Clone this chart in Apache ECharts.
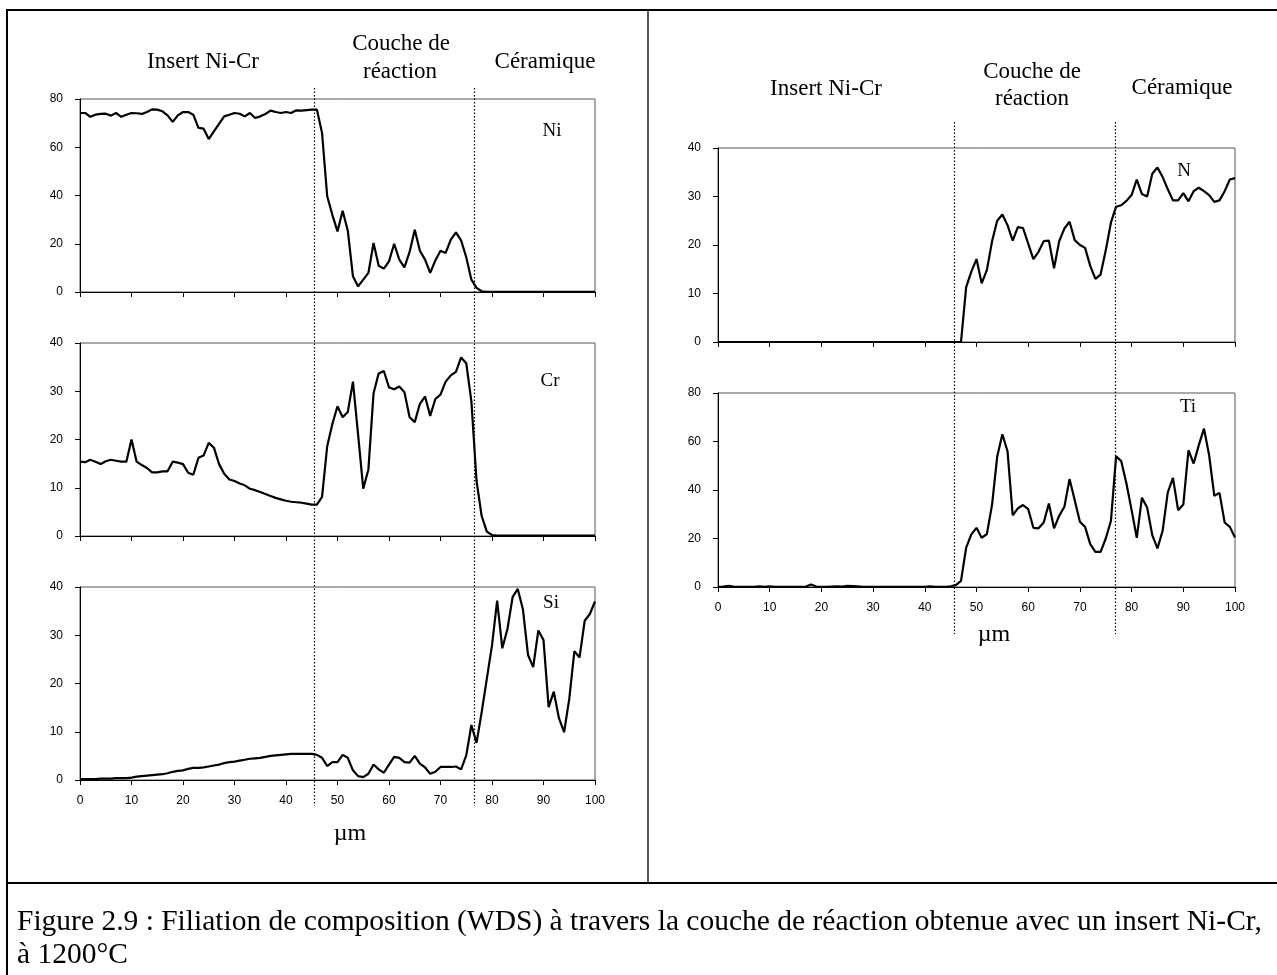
<!DOCTYPE html>
<html>
<head>
<meta charset="utf-8">
<script src="https://cdn.jsdelivr.net/npm/echarts@6/dist/echarts.min.js"></script>
<style>
html,body{margin:0;padding:0;background:#fff;}
#c{width:1277px;height:975px;}
</style>
</head>
<body>
<div id="c"></div>
<script>
// ---- data (µm positions and at.% values) ----
const POSITIONS = [0,1,2,3,4,5,6,7,8,9,10,11,12,13,14,15,16,17,18,19,20,21,22,23,24,25,26,27,28,29,30,31,32,33,34,35,36,37,38,39,40,41,42,43,44,45,46,47,48,49,50,51,52,53,54,55,56,57,58,59,60,61,62,63,64,65,66,67,68,69,70,71,72,73,74,75,76,77,78,79,80,81,82,83,84,85,86,87,88,89,90,91,92,93,94,95,96,97,98,99,100];

const NI = [74.2,74.2,72.6,73.5,73.8,73.9,73.1,74.2,72.6,73.5,74.2,74.1,73.8,74.6,75.7,75.6,74.9,73.2,70.5,73.2,74.6,74.6,73.5,68.0,67.7,63.4,66.6,69.7,72.8,73.5,74.2,73.9,72.8,74.2,72.1,72.8,73.8,75.2,74.6,74.2,74.6,74.2,75.3,75.2,75.4,75.6,75.6,65.9,39.7,32.0,25.1,33.7,25.4,6.5,2.3,5.1,7.9,20.3,10.9,9.7,12.7,20.0,13.4,10.2,16.6,25.8,17.1,13.4,7.9,13.1,17.1,16.2,21.7,24.7,21.4,14.4,5.1,1.7,0.3,0.1,0.1,0.1,0.1,0.1,0.1,0.1,0.1,0.1,0.1,0.1,0.1,0.1,0.1,0.1,0.1,0.1,0.1,0.1,0.1,0.1,0.1];

const CR = [15.4,15.3,15.8,15.4,14.9,15.5,15.8,15.6,15.4,15.4,20.0,15.4,14.7,14.1,13.2,13.2,13.4,13.4,15.4,15.2,14.9,13.1,12.7,16.2,16.7,19.3,18.3,14.9,12.9,11.7,11.4,10.9,10.5,9.8,9.5,9.1,8.7,8.3,7.9,7.6,7.3,7.1,7.0,6.9,6.7,6.5,6.5,8.1,18.6,23.2,26.9,24.6,25.7,32.0,21.0,9.8,13.8,29.6,33.7,34.2,30.8,30.4,31.0,29.8,24.6,23.6,27.4,28.9,24.9,28.4,29.3,32.0,33.3,34.0,37.0,35.8,27.9,11.4,4.1,0.9,0.2,0.1,0.1,0.1,0.1,0.1,0.1,0.1,0.1,0.1,0.1,0.1,0.1,0.1,0.1,0.1,0.1,0.1,0.1,0.1,0.1];

const SI = [0.2,0.2,0.2,0.2,0.3,0.3,0.3,0.4,0.4,0.4,0.5,0.7,0.8,0.9,1.0,1.1,1.2,1.4,1.7,1.9,2.0,2.3,2.5,2.5,2.6,2.8,3.0,3.2,3.5,3.7,3.8,4.0,4.2,4.4,4.5,4.6,4.8,5.0,5.1,5.2,5.3,5.4,5.4,5.4,5.4,5.4,5.2,4.6,2.9,3.7,3.7,5.2,4.6,2.0,0.8,0.6,1.3,3.2,2.2,1.5,3.2,4.8,4.6,3.7,3.6,5.0,3.4,2.6,1.3,1.7,2.7,2.7,2.7,2.8,2.2,5.1,11.4,7.7,14.1,21.0,27.9,37.2,27.3,31.3,37.9,39.6,35.4,25.9,23.4,31.0,29.0,15.1,18.3,12.8,9.9,16.8,26.7,25.4,33.0,34.4,37.0];

const N = [0,0,0,0,0,0,0,0,0,0,0,0,0,0,0,0,0,0,0,0,0,0,0,0,0,0,0,0,0,0,0,0,0,0,0,0,0,0,0,0,0,0,0,0,0,0,0,0,11.3,14.5,17.1,12.1,14.8,20.7,25.0,26.3,24.1,20.9,23.7,23.5,20.3,17.1,18.6,20.8,20.9,15.2,20.8,23.4,24.8,21.0,20.0,19.4,15.7,13.0,13.9,18.9,24.6,27.9,28.2,29.1,30.3,33.5,30.5,30.0,34.7,36.0,34.0,31.5,29.2,29.2,30.7,29.0,31.1,31.8,31.1,30.3,28.9,29.2,31.1,33.5,33.8];

const TI = [0.1,0.2,0.5,0.2,0.1,0.1,0.1,0.1,0.3,0.1,0.3,0.1,0.1,0.1,0.1,0.1,0.1,0.2,1.0,0.2,0.1,0.1,0.2,0.3,0.2,0.5,0.4,0.3,0.1,0.1,0.1,0.1,0.1,0.1,0.1,0.1,0.1,0.1,0.1,0.1,0.1,0.3,0.1,0.1,0.1,0.3,0.8,2.5,16.2,21.7,24.4,20.3,21.8,33.8,53.7,63.0,56.0,29.6,32.4,33.8,32.1,24.4,24.2,26.6,34.4,24.2,29.4,33.1,44.5,35.8,26.9,24.8,17.7,14.5,14.5,20.0,27.2,53.9,51.9,42.7,31.7,20.3,36.8,32.8,21.4,15.9,23.2,39.0,45.0,31.7,34.0,56.4,50.9,58.5,65.3,54.3,37.6,38.8,26.6,24.8,20.4];

const Y_MAX = [80, 40, 40, 40, 80];
const Y_STEP = [20, 10, 10, 10, 20];
const ELEMENTS = ['Ni', 'Cr', 'Si', 'N', 'Ti'];
const BOUNDARIES_LEFT = [45.5, 76.5];
const BOUNDARIES_RIGHT = [45.7, 76.7];
const ZONES = ['Insert Ni-Cr', 'Couche de', 'réaction', 'Céramique'];
const X_UNIT = 'µm';
const CAPTION_1 = 'Figure 2.9 : Filiation de composition (WDS) à travers la couche de réaction obtenue avec un insert Ni-Cr,';
const CAPTION_2 = 'à 1200°C';

// ---- layout ----
const SERIES = [NI, CR, SI, N, TI];
const GRIDS = [
  {left: 80, top: 99, width: 515, height: 193},
  {left: 80, top: 343, width: 515, height: 193},
  {left: 80, top: 587, width: 515, height: 193},
  {left: 718, top: 148, width: 517, height: 194},
  {left: 718, top: 393, width: 517, height: 194}
];
const SHOW_X_LABELS = [false, false, true, false, true];
const SANS = '"Liberation Sans", Arial, sans-serif';
const SERIF = '"Liberation Serif", "Times New Roman", serif';

const chart = echarts.init(document.getElementById('c'), null, {renderer: 'canvas'});

const grid = GRIDS.map(g => Object.assign({show: true, borderColor: '#555', borderWidth: 1, backgroundColor: 'transparent'}, g));
const xAxis = GRIDS.map((g, i) => ({
  type: 'value', gridIndex: i, min: 0, max: 100, interval: 10,
  axisLine: {show: true, onZero: false, lineStyle: {color: '#000', width: 1}},
  axisTick: {show: true, inside: false, length: 5, lineStyle: {color: '#000'}},
  axisLabel: {show: SHOW_X_LABELS[i], margin: 15, color: '#000', fontFamily: SANS, fontSize: 12},
  splitLine: {show: false}
}));
const yAxis = GRIDS.map((g, i) => ({
  type: 'value', gridIndex: i, min: 0, max: Y_MAX[i], interval: Y_STEP[i],
  axisLine: {show: true, lineStyle: {color: '#000', width: 1}},
  axisTick: {show: true, inside: false, length: 5, lineStyle: {color: '#000'}},
  axisLabel: {show: true, margin: 17, color: '#000', fontFamily: SANS, fontSize: 12},
  splitLine: {show: false}
}));
const series = SERIES.map((vals, i) => ({
  type: 'line', name: ELEMENTS[i], xAxisIndex: i, yAxisIndex: i,
  data: POSITIONS.map((x, k) => [x, vals[k]]),
  showSymbol: false, symbol: 'none', smooth: false, silent: true,
  lineStyle: {color: '#000', width: 2.2}, z: 3
}));

chart.setOption({
  animation: false,
  backgroundColor: '#fff',
  grid, xAxis, yAxis, series
});

// ---- annotations positioned through the axes ----
function px(idx, x, y) { return chart.convertToPixel({gridIndex: idx}, [x, y]); }
const g = [];
function text(t, x, y, size, align) {
  g.push({type: 'text', x: x, y: y, silent: true, z: 10,
    style: {text: t, font: size + 'px ' + SERIF, fill: '#000',
      align: align || 'center', verticalAlign: 'middle',
      textAlign: align || 'center', textVerticalAlign: 'middle'}});
}
function line(x1, y1, x2, y2, w, dash) {
  g.push({type: 'line', silent: true, z: 10,
    shape: {x1, y1, x2, y2},
    style: {stroke: '#000', lineWidth: w, lineDash: dash || null}});
}
// frame
line(7, 10, 1277, 10, 2);
line(7, 9, 7, 975, 2);
line(648, 10, 648, 883, 1.3);
line(6, 883, 1277, 883, 2);

// dotted boundaries
BOUNDARIES_LEFT.forEach(b => {
  const x = Math.round(px(0, b, 0)[0]) + 0.5;
  line(x, 88, x, 806, 1.2, [1.5, 2]);
});
BOUNDARIES_RIGHT.forEach(b => {
  const x = Math.round(px(3, b, 0)[0]) + 0.5;
  line(x, 122, x, 634, 1.2, [1.5, 2]);
});

// zone headings
text(ZONES[0], 203, 62, 23);
text(ZONES[1], 401, 44, 23);
text(ZONES[2], 400, 72, 23);
text(ZONES[3], 545, 62, 23);
text(ZONES[0], 826, 89, 23);
text(ZONES[1], 1032, 72, 23);
text(ZONES[2], 1032, 99, 23);
text(ZONES[3], 1182, 88, 23);

// element names
text(ELEMENTS[0], 552, 131, 19);
text(ELEMENTS[1], 550, 381, 19);
text(ELEMENTS[2], 551, 603, 19);
text(ELEMENTS[3], 1184, 171, 19);
text(ELEMENTS[4], 1188, 407, 19);

// axis unit
text(X_UNIT, 350, 834, 24);
text(X_UNIT, 994, 635, 24);

// caption
text(CAPTION_1, 17, 922, 29.5, 'left');
text(CAPTION_2, 17, 955, 29.5, 'left');

chart.setOption({graphic: g});
</script>
</body>
</html>
